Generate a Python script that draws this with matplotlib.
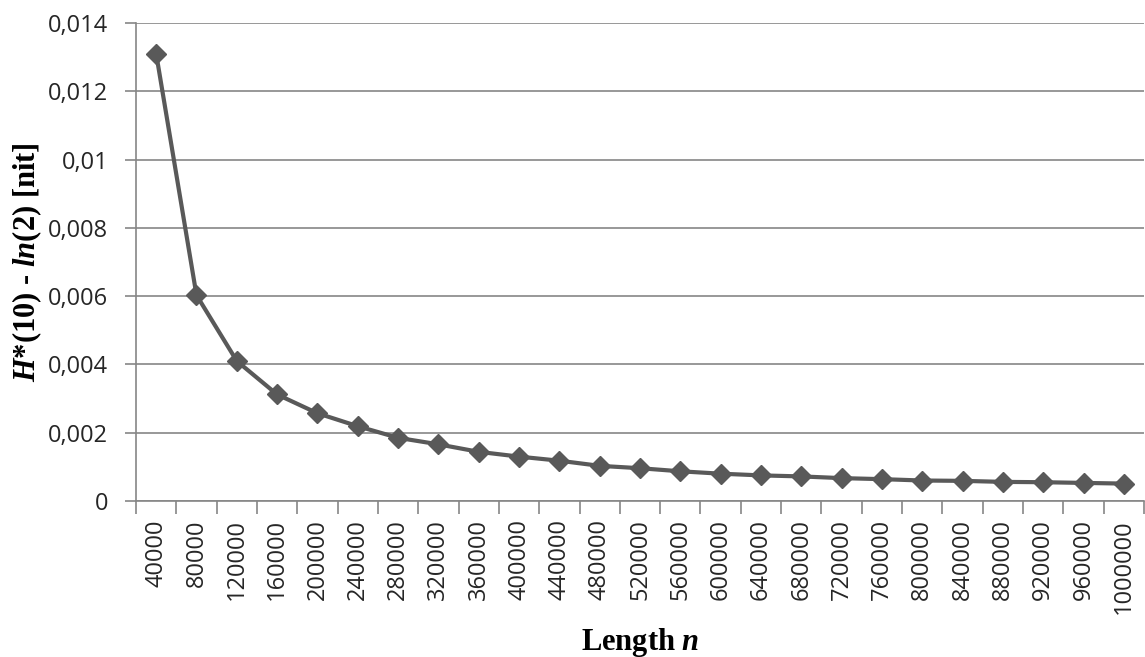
import numpy as np
import matplotlib
matplotlib.use('Agg')
import matplotlib.pyplot as plt

# data
lengths = [40000, 80000, 120000, 160000, 200000, 240000, 280000, 320000,
           360000, 400000, 440000, 480000, 520000, 560000, 600000, 640000,
           680000, 720000, 760000, 800000, 840000, 880000, 920000, 960000,
           1000000]
diff_nit = [0.0131, 0.00603, 0.0041, 0.00312, 0.00257, 0.00219, 0.00185,
            0.00166, 0.00144, 0.0013, 0.00118, 0.00103, 0.00096, 0.00087,
            0.0008, 0.00075, 0.00072, 0.00067, 0.00064, 0.0006, 0.00059,
            0.00056, 0.00055, 0.00053, 0.00051]
y_ticks = [0, 0.002, 0.004, 0.006, 0.008, 0.01, 0.012, 0.014]

plt.rcParams['mathtext.fontset'] = 'custom'
plt.rcParams['mathtext.rm'] = 'Liberation Serif:bold'
plt.rcParams['mathtext.bf'] = 'Liberation Serif:bold'
plt.rcParams['mathtext.it'] = 'Liberation Serif:italic:bold'

grey = '#868686'
line_col = '#595959'

fig = plt.figure(figsize=(11.45, 6.57), dpi=100)
ax = fig.add_axes([136 / 1145, 1 - 501 / 657, 1008 / 1145, 478 / 657])

x = np.arange(len(lengths))
ax.plot(x, diff_nit, color=line_col, linewidth=3, marker='D',
        markersize=10, zorder=3)

ax.set_xlim(-0.5, len(lengths) - 0.5)
ax.set_ylim(0, 0.014)

# y axis
ax.set_yticks(y_ticks)
ax.set_yticklabels([('%g' % v).replace('.', ',') for v in y_ticks],
                   fontsize=17, family='Open Sans', color='#262626')
ax.tick_params(axis='y', length=8, width=1.2, color=grey, pad=12)
ax.grid(axis='y', color=grey, linewidth=1.2)
ax.set_axisbelow(True)

# x axis: ticks between categories, labels at the centres
ax.set_xticks(np.arange(len(lengths) + 1) - 0.5)
ax.set_xticklabels([])
ax.set_xticks(x, minor=True)
ax.set_xticklabels([str(v) for v in lengths], minor=True, rotation=90,
                   fontsize=17, family='Open Sans', color='#262626')
ax.tick_params(axis='x', which='major', length=9, width=1.2, color=grey)
ax.tick_params(axis='x', which='minor', length=0, pad=13)

for s in ['top', 'right']:
    ax.spines[s].set_visible(False)
for s in ['left', 'bottom']:
    ax.spines[s].set_color(grey)
    ax.spines[s].set_linewidth(1.2)

ax.set_xlabel('Length $n$', fontsize=22, family='Liberation Serif',
              fontweight='bold')
ax.xaxis.set_label_coords(0.5, -0.262)
ax.set_ylabel('$H$*(10) - $ln$(2) [nit]', fontsize=22,
              family='Liberation Serif', fontweight='bold')
ax.yaxis.set_label_coords(-0.091, 0.5)

fig.savefig('out.png', dpi=100)
